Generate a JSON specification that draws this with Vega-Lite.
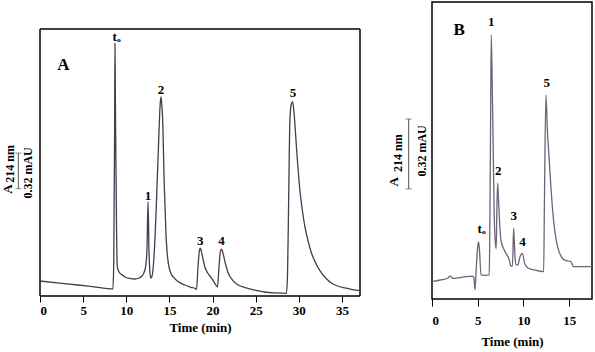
{
  "$schema": "https://vega.github.io/schema/vega-lite/v6.json",
  "padding": {"left": 2, "top": 1, "right": 2, "bottom": 2},
  "spacing": 24,
  "config": {
    "view": {"stroke": "black", "strokeWidth": 1.5},
    "font": "Liberation Serif",
    "axis": {"labelFont": "Liberation Serif", "labelFontWeight": "bold", "labelFontSize": 13, "labelColor": "black",
             "titleFont": "Liberation Serif", "titleFontWeight": "bold", "titleFontSize": 13, "titleColor": "black",
             "tickColor": "black", "tickWidth": 1, "domain": false, "grid": false},
    "text": {"font": "Liberation Serif", "fontWeight": "bold", "color": "black"}
  },
  "datasets": {
    "a": [
      {"t": 0, "v": 0.135}, {"t": 2, "v": 0.118}, {"t": 4.4, "v": 0.099}, {"t": 6.5, "v": 0.08}, {"t": 8.45, "v": 0.063},
      {"t": 8.55, "v": 0.3}, {"t": 8.65, "v": 1.465}, {"t": 8.69, "v": 2.271}, {"t": 8.73, "v": 1.9}, {"t": 8.77, "v": 1.465},
      {"t": 8.88, "v": 0.566}, {"t": 8.96, "v": 0.261}, {"t": 9.15, "v": 0.218}, {"t": 9.5, "v": 0.19}, {"t": 9.85, "v": 0.171},
      {"t": 10.4, "v": 0.158}, {"t": 11.0, "v": 0.153}, {"t": 11.5, "v": 0.162}, {"t": 11.77, "v": 0.175}, {"t": 11.97, "v": 0.195},
      {"t": 12.24, "v": 0.261}, {"t": 12.4, "v": 0.413}, {"t": 12.53, "v": 0.848}, {"t": 12.63, "v": 0.413}, {"t": 12.74, "v": 0.22},
      {"t": 12.82, "v": 0.162}, {"t": 12.95, "v": 0.17}, {"t": 13.13, "v": 0.261}, {"t": 13.35, "v": 0.55}, {"t": 13.51, "v": 0.863},
      {"t": 13.79, "v": 1.465}, {"t": 13.93, "v": 1.72}, {"t": 14.02, "v": 1.789}, {"t": 14.1, "v": 1.74}, {"t": 14.21, "v": 1.609},
      {"t": 14.4, "v": 1.016}, {"t": 14.6, "v": 0.566}, {"t": 14.87, "v": 0.297}, {"t": 15.2, "v": 0.2}, {"t": 15.45, "v": 0.171},
      {"t": 16.0, "v": 0.13}, {"t": 16.8, "v": 0.099}, {"t": 17.5, "v": 0.078}, {"t": 18.0, "v": 0.067}, {"t": 18.15, "v": 0.06},
      {"t": 18.3, "v": 0.24}, {"t": 18.45, "v": 0.39}, {"t": 18.57, "v": 0.429}, {"t": 18.68, "v": 0.41}, {"t": 18.8, "v": 0.369},
      {"t": 19.12, "v": 0.261}, {"t": 19.5, "v": 0.2}, {"t": 19.88, "v": 0.162}, {"t": 20.3, "v": 0.11}, {"t": 20.58, "v": 0.081},
      {"t": 20.7, "v": 0.2}, {"t": 20.85, "v": 0.36}, {"t": 21.0, "v": 0.422}, {"t": 21.1, "v": 0.415}, {"t": 21.24, "v": 0.378},
      {"t": 21.5, "v": 0.29}, {"t": 21.82, "v": 0.207}, {"t": 22.3, "v": 0.145}, {"t": 22.98, "v": 0.099}, {"t": 23.7, "v": 0.077},
      {"t": 24.52, "v": 0.06}, {"t": 25.3, "v": 0.047}, {"t": 26.07, "v": 0.036}, {"t": 27.3, "v": 0.028}, {"t": 28.57, "v": 0.024},
      {"t": 28.7, "v": 0.2}, {"t": 28.83, "v": 0.863}, {"t": 28.97, "v": 1.58}, {"t": 29.12, "v": 1.72}, {"t": 29.27, "v": 1.747},
      {"t": 29.4, "v": 1.69}, {"t": 29.52, "v": 1.582}, {"t": 29.73, "v": 1.342}, {"t": 30.13, "v": 0.953}, {"t": 30.4, "v": 0.78},
      {"t": 30.71, "v": 0.623}, {"t": 31.1, "v": 0.49}, {"t": 31.47, "v": 0.387}, {"t": 32.0, "v": 0.29}, {"t": 32.63, "v": 0.207},
      {"t": 33.2, "v": 0.155}, {"t": 33.79, "v": 0.117}, {"t": 34.5, "v": 0.09}, {"t": 35.34, "v": 0.072}, {"t": 36.2, "v": 0.058},
      {"t": 37.1, "v": 0.048}
    ],
    "b": [
      {"t": 0, "v": 0.079}, {"t": 0.9, "v": 0.087}, {"t": 1.72, "v": 0.095}, {"t": 1.97, "v": 0.106}, {"t": 2.3, "v": 0.094},
      {"t": 3.0, "v": 0.098}, {"t": 3.5, "v": 0.101}, {"t": 4.45, "v": 0.105}, {"t": 4.59, "v": 0.096}, {"t": 4.7, "v": 0.041},
      {"t": 4.86, "v": 0.156}, {"t": 5.0, "v": 0.24}, {"t": 5.1, "v": 0.262}, {"t": 5.2, "v": 0.22}, {"t": 5.36, "v": 0.11},
      {"t": 5.8, "v": 0.108}, {"t": 6.26, "v": 0.11}, {"t": 6.33, "v": 0.35}, {"t": 6.4, "v": 0.75}, {"t": 6.48, "v": 1.209},
      {"t": 6.58, "v": 1.0}, {"t": 6.67, "v": 0.76}, {"t": 6.81, "v": 0.377}, {"t": 6.92, "v": 0.262}, {"t": 7.02, "v": 0.23},
      {"t": 7.1, "v": 0.42}, {"t": 7.18, "v": 0.53}, {"t": 7.26, "v": 0.47}, {"t": 7.36, "v": 0.377}, {"t": 7.54, "v": 0.27},
      {"t": 7.9, "v": 0.224}, {"t": 8.45, "v": 0.179}, {"t": 8.63, "v": 0.151}, {"t": 8.8, "v": 0.151}, {"t": 8.93, "v": 0.324},
      {"t": 9.07, "v": 0.201}, {"t": 9.18, "v": 0.156}, {"t": 9.4, "v": 0.156}, {"t": 9.6, "v": 0.19}, {"t": 9.87, "v": 0.209},
      {"t": 10.16, "v": 0.16}, {"t": 10.49, "v": 0.142}, {"t": 11.18, "v": 0.133}, {"t": 12.21, "v": 0.125}, {"t": 12.3, "v": 0.453},
      {"t": 12.46, "v": 0.934}, {"t": 12.62, "v": 0.774}, {"t": 12.82, "v": 0.636}, {"t": 13.19, "v": 0.408}, {"t": 13.74, "v": 0.239},
      {"t": 14.46, "v": 0.179}, {"t": 15.19, "v": 0.171}, {"t": 15.49, "v": 0.148}, {"t": 17.5, "v": 0.148}
    ],
    "alab": [
      {"t": 8.88, "v": 2.325, "label": "tₒ"}, {"t": 12.51, "v": 0.899, "label": "1"}, {"t": 14.02, "v": 1.852, "label": "2"},
      {"t": 18.57, "v": 0.497, "label": "3"}, {"t": 21.05, "v": 0.497, "label": "4"}, {"t": 29.32, "v": 1.822, "label": "5"}
    ],
    "blab": [
      {"t": 5.43, "v": 0.319, "label": "tₒ"}, {"t": 6.48, "v": 1.27, "label": "1"}, {"t": 7.25, "v": 0.587, "label": "2"},
      {"t": 8.93, "v": 0.38, "label": "3"}, {"t": 9.91, "v": 0.262, "label": "4"}, {"t": 12.54, "v": 0.988, "label": "5"}
    ],
    "apanel": [{"t": 2.7, "v": 2.076, "label": "A"}],
    "bpanel": [{"t": 2.98, "v": 1.232, "label": "B"}],
    "aframe": [
      {"t": 0, "t2": 37.1, "v": 2.4, "v2": 2.4},
      {"t": 0, "t2": 0, "v": 0, "v2": 2.4},
      {"t": 37.1, "t2": 37.1, "v": 0, "v2": 2.4},
      {"t": 0, "t2": 37.1, "v": 0, "v2": 0}
    ],
    "abar": [{"t": -2.51, "v": 0.965, "v2": 1.285}],
    "acap": [{"t": -2.51, "v": 0.965}, {"t": -2.51, "v": 1.285}],
    "bbar": [{"t": -2.55, "v": 0.504, "v2": 0.824}],
    "bcap": [{"t": -2.55, "v": 0.504}, {"t": -2.55, "v": 0.824}],
    "atxt": [
      {"t": -3.67, "v": 0.962, "label": "A", "kind": "main"},
      {"t": -3.44, "v": 1.187, "label": "214 nm", "kind": "sub"},
      {"t": -1.36, "v": 1.106, "label": "0.32 mAU", "kind": "unit"}
    ],
    "btxt": [
      {"t": -4.12, "v": 0.537, "label": "A", "kind": "main"},
      {"t": -3.75, "v": 0.668, "label": "214 nm", "kind": "sub"},
      {"t": -1.13, "v": 0.678, "label": "0.32 mAU", "kind": "unit"}
    ]
  },
  "hconcat": [
    {
      "width": 320,
      "height": 294,
      "view": {"stroke": null},
      "encoding": {
        "x": {"field": "t", "type": "quantitative",
              "scale": {"domain": [0, 37.1], "nice": false, "zero": false},
              "axis": {"title": "Time (min)", "values": [0, 5, 10, 15, 20, 25, 30, 35], "tickSize": 6, "labelPadding": 2, "titlePadding": 4}},
        "y": {"field": "v", "type": "quantitative", "scale": {"domain": [0, 2.6427], "nice": false, "zero": false}, "axis": null}
      },
      "layer": [
        {"data": {"name": "aframe"}, "mark": {"type": "rule", "color": "black", "strokeWidth": 1.5}, "encoding": {"x2": {"field": "t2"}, "y2": {"field": "v2"}}},
        {"data": {"name": "a"}, "mark": {"type": "line", "color": "#453c4d", "strokeWidth": 1.3, "interpolate": "monotone"}},
        {"data": {"name": "alab"}, "mark": {"type": "text", "fontSize": 13, "baseline": "middle", "align": "center"}, "encoding": {"text": {"field": "label"}}},
        {"data": {"name": "apanel"}, "mark": {"type": "text", "fontSize": 17, "baseline": "middle", "align": "center"}, "encoding": {"text": {"field": "label"}}},
        {"data": {"name": "abar"}, "mark": {"type": "rule", "color": "#555", "strokeWidth": 1}, "encoding": {"y2": {"field": "v2"}}},
        {"data": {"name": "acap"}, "mark": {"type": "tick", "orient": "horizontal", "color": "#555", "size": 6, "thickness": 1}},
        {"data": {"name": "atxt"}, "transform": [{"filter": "datum.kind == 'main'"}], "mark": {"type": "text", "fontSize": 13, "angle": 270, "baseline": "middle", "align": "center"}, "encoding": {"text": {"field": "label"}}},
        {"data": {"name": "atxt"}, "transform": [{"filter": "datum.kind == 'sub'"}], "mark": {"type": "text", "fontSize": 12, "angle": 270, "baseline": "middle", "align": "center"}, "encoding": {"text": {"field": "label"}}},
        {"data": {"name": "atxt"}, "transform": [{"filter": "datum.kind == 'unit'"}], "mark": {"type": "text", "fontSize": 12, "angle": 270, "baseline": "middle", "align": "center"}, "encoding": {"text": {"field": "label"}}}
      ]
    },
    {
      "width": 160,
      "height": 297,
      "encoding": {
        "x": {"field": "t", "type": "quantitative",
              "scale": {"domain": [0, 17.5], "nice": false, "zero": false},
              "axis": {"title": "Time (min)", "values": [0, 5, 10, 15], "tickSize": 7, "labelPadding": 8, "titlePadding": 8}},
        "y": {"field": "v", "type": "quantitative", "scale": {"domain": [0, 1.36], "nice": false, "zero": false}, "axis": null}
      },
      "layer": [
        {"data": {"name": "b"}, "mark": {"type": "line", "color": "#6e6478", "strokeWidth": 1.3, "interpolate": "monotone"}},
        {"data": {"name": "blab"}, "mark": {"type": "text", "fontSize": 13, "baseline": "middle", "align": "center"}, "encoding": {"text": {"field": "label"}}},
        {"data": {"name": "bpanel"}, "mark": {"type": "text", "fontSize": 17, "baseline": "middle", "align": "center"}, "encoding": {"text": {"field": "label"}}},
        {"data": {"name": "bbar"}, "mark": {"type": "rule", "color": "#555", "strokeWidth": 1}, "encoding": {"y2": {"field": "v2"}}},
        {"data": {"name": "bcap"}, "mark": {"type": "tick", "orient": "horizontal", "color": "#555", "size": 6, "thickness": 1}},
        {"data": {"name": "btxt"}, "transform": [{"filter": "datum.kind == 'main'"}], "mark": {"type": "text", "fontSize": 13, "angle": 270, "baseline": "middle", "align": "center"}, "encoding": {"text": {"field": "label"}}},
        {"data": {"name": "btxt"}, "transform": [{"filter": "datum.kind == 'sub'"}], "mark": {"type": "text", "fontSize": 12, "angle": 270, "baseline": "middle", "align": "center"}, "encoding": {"text": {"field": "label"}}},
        {"data": {"name": "btxt"}, "transform": [{"filter": "datum.kind == 'unit'"}], "mark": {"type": "text", "fontSize": 12, "angle": 270, "baseline": "middle", "align": "center"}, "encoding": {"text": {"field": "label"}}}
      ]
    }
  ]
}
